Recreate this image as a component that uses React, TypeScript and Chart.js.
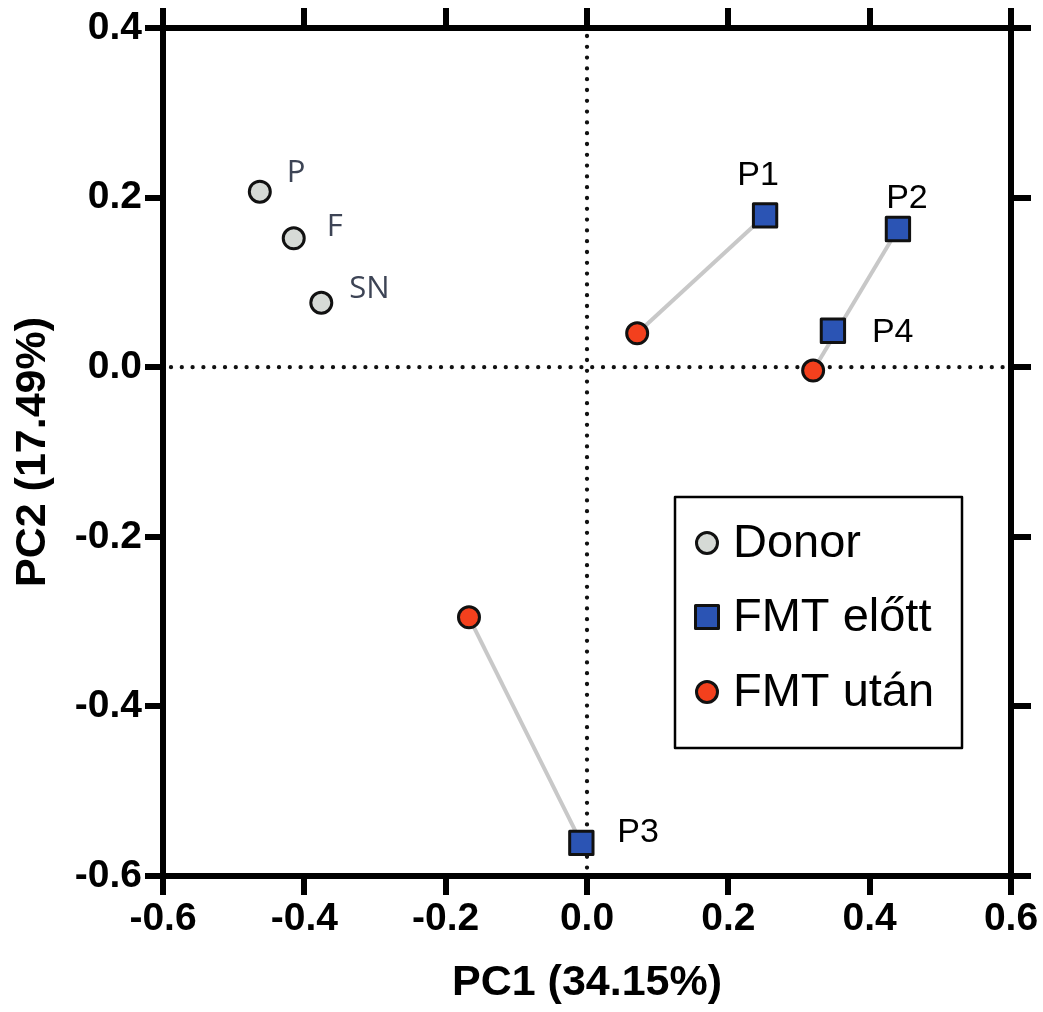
import React, { useEffect, useRef } from 'react';
import { Chart, registerables } from 'chart.js';

Chart.register(...registerables);

// ---- data ----
const donorX = [-0.463, -0.415, -0.376];
const donorY = [0.207, 0.152, 0.076];
const donorLabels = ['P', 'F', 'SN'];

const beforeX = [0.252, 0.44, -0.008, 0.348];
const beforeY = [0.179, 0.163, -0.561, 0.043];
const beforeLabels = ['P1', 'P2', 'P3', 'P4'];

const afterX = [0.071, 0.32, -0.167];
const afterY = [0.04, -0.004, -0.295];

// connections: [before index, after index]
const pairs = [
  [0, 0],
  [1, 1],
  [2, 2],
];

const xTicks = [-0.6, -0.4, -0.2, 0.0, 0.2, 0.4, 0.6];
const yTicks = [-0.6, -0.4, -0.2, 0.0, 0.2, 0.4];

const legendNames = ['Donor', 'FMT előtt', 'FMT után'];

// ---- styles ----
const FONT = '"Liberation Sans", Arial, Helvetica, sans-serif';
const DONOR_FILL = '#d6dad6';
const BEFORE_FILL = '#2b54b4';
const AFTER_FILL = '#f3401d';
const EDGE = '#111111';

// label offsets (pixels) relative to the marker: [dx, dy, align]
const beforeLabelOffsets: [number, number, CanvasTextAlign][] = [
  [-7, -30, 'center'],
  [9, -21, 'center'],
  [36, -1, 'left'],
  [39, 11, 'left'],
];
const donorLabelOffsets: [number, number][] = [
  [27, -10],
  [33, -2],
  [28, -5],
];

function fmt(v: number) {
  if (Math.abs(v) < 1e-9) return '0.0';
  return v.toFixed(1);
}

function drawMarker(ctx: CanvasRenderingContext2D, style: string, x: number, y: number, fill: string) {
  ctx.save();
  ctx.fillStyle = fill;
  ctx.strokeStyle = EDGE;
  ctx.lineWidth = 3;
  ctx.lineJoin = 'round';
  ctx.beginPath();
  if (style === 'rect') {
    ctx.rect(x - 11.5, y - 11.5, 23, 23);
  } else {
    ctx.arc(x, y, 10.5, 0, Math.PI * 2);
  }
  ctx.fill();
  ctx.stroke();
  ctx.restore();
}

const zeroLinesPlugin = {
  id: 'zeroLines',
  beforeDatasetsDraw(chart: any) {
    const { ctx, chartArea, scales } = chart;
    const x0 = scales.x.getPixelForValue(0);
    const y0 = scales.y.getPixelForValue(0);
    ctx.save();
    ctx.beginPath();
    ctx.rect(chartArea.left + 3, chartArea.top + 3, chartArea.width - 6, chartArea.height - 6);
    ctx.clip();
    ctx.strokeStyle = '#111';
    ctx.lineWidth = 4.3;
    ctx.lineCap = 'round';
    ctx.setLineDash([0, 10.8]);
    ctx.beginPath();
    ctx.moveTo(x0, chartArea.top + 8);
    ctx.lineTo(x0, chartArea.bottom);
    ctx.stroke();
    ctx.beginPath();
    ctx.moveTo(chartArea.left + 8, y0);
    ctx.lineTo(chartArea.right, y0);
    ctx.stroke();
    ctx.restore();
    ctx.lineJoin = 'round';
  },
};

const pointLabelsPlugin = {
  id: 'pointLabels',
  afterDatasetsDraw(chart: any) {
    const { ctx, scales } = chart;
    ctx.save();
    ctx.textBaseline = 'alphabetic';
    ctx.font = `34px ${FONT}`;
    ctx.fillStyle = '#000';
    beforeLabels.forEach((t, i) => {
      const px = scales.x.getPixelForValue(beforeX[i]);
      const py = scales.y.getPixelForValue(beforeY[i]);
      const [dx, dy, al] = beforeLabelOffsets[i];
      ctx.textAlign = al;
      ctx.fillText(t, px + dx, py + dy);
    });
    ctx.font = `31px "Open Sans", ${FONT}`;
    ctx.fillStyle = '#3d4455';
    ctx.textAlign = 'left';
    donorLabels.forEach((t, i) => {
      const px = scales.x.getPixelForValue(donorX[i]);
      const py = scales.y.getPixelForValue(donorY[i]);
      const [dx, dy] = donorLabelOffsets[i];
      ctx.fillText(t, px + dx, py + dy);
    });
    ctx.restore();
  },
};

const legendBoxPlugin = {
  id: 'legendBox',
  afterDraw(chart: any) {
    const ctx = chart.ctx as CanvasRenderingContext2D;
    const box = { left: 675, top: 497, width: 287, height: 251 };
    ctx.save();
    ctx.fillStyle = '#fff';
    ctx.fillRect(box.left, box.top, box.width, box.height);
    ctx.strokeStyle = '#000';
    ctx.lineWidth = 2.5;
    ctx.strokeRect(box.left, box.top, box.width, box.height);
    const styles = ['circle', 'rect', 'circle'];
    const fills = [DONOR_FILL, BEFORE_FILL, AFTER_FILL];
    const rowsY = [543, 617, 692];
    legendNames.forEach((name, i) => {
      drawMarker(ctx, styles[i], 707, rowsY[i], fills[i]);
      ctx.fillStyle = '#000';
      ctx.font = `47px ${FONT}`;
      ctx.textAlign = 'left';
      ctx.textBaseline = 'middle';
      ctx.fillText(name, 733, rowsY[i] + 1);
    });
    ctx.restore();
  },
};

export default function App() {
  const ref = useRef<HTMLCanvasElement>(null);

  useEffect(() => {
    if (!ref.current) return;

    const lineSets = pairs.map(([b, a]) => ({
      type: 'scatter' as const,
      label: 'link',
      data: [
        { x: beforeX[b], y: beforeY[b] },
        { x: afterX[a], y: afterY[a] },
      ],
      showLine: true,
      borderColor: '#c8c8c8',
      borderWidth: 4,
      pointRadius: 0,
      order: 10,
    }));

    const chart = new Chart(ref.current, {
      type: 'scatter',
      data: {
        datasets: [
          ...lineSets,
          {
            label: legendNames[0],
            data: donorX.map((x, i) => ({ x, y: donorY[i] })),
            pointStyle: 'circle',
            pointRadius: 10.5,
            pointBorderWidth: 3,
            backgroundColor: DONOR_FILL,
            borderColor: EDGE,
            order: 1,
          },
          {
            label: legendNames[1],
            data: beforeX.map((x, i) => ({ x, y: beforeY[i] })),
            pointStyle: 'rect',
            pointRadius: 16.5,
            pointBorderWidth: 3,
            backgroundColor: BEFORE_FILL,
            borderColor: EDGE,
            order: 1,
          },
          {
            label: legendNames[2],
            data: afterX.map((x, i) => ({ x, y: afterY[i] })),
            pointStyle: 'circle',
            pointRadius: 10.5,
            pointBorderWidth: 3,
            backgroundColor: AFTER_FILL,
            borderColor: EDGE,
            order: 1,
          },
        ],
      },
      options: {
        animation: false,
        responsive: false,
        devicePixelRatio: 1,
        events: [],
        layout: { padding: 0 },
        plugins: {
          legend: { display: false },
          tooltip: { enabled: false },
        },
        scales: {
          x: {
            type: 'linear',
            position: 'bottom',
            min: -0.6,
            max: 0.6,
            afterBuildTicks: (s: any) => {
              s.ticks = xTicks.map((v) => ({ value: v }));
            },
            afterFit: (s: any) => {
              s.height = 136;
            },
            grid: { drawOnChartArea: false, drawTicks: true, tickLength: 19, lineWidth: 6, color: '#000' },
            border: { display: true, width: 6, color: '#000' },
            ticks: {
              padding: 1,
              color: '#000',
              font: { family: FONT, size: 39, weight: 'bold' },
              callback: (v: any) => fmt(Number(v)),
              maxRotation: 0,
            },
            title: {
              display: true,
              text: 'PC1 (34.15%)',
              color: '#000',
              font: { family: FONT, size: 43, weight: 'bold' },
              padding: { top: 0, bottom: 3 },
            },
          },
          x2: {
            type: 'linear',
            position: 'top',
            min: -0.6,
            max: 0.6,
            afterBuildTicks: (s: any) => {
              s.ticks = xTicks.map((v) => ({ value: v }));
            },
            afterFit: (s: any) => {
              s.height = 28;
            },
            grid: { drawOnChartArea: false, drawTicks: true, tickLength: 20, lineWidth: 6, color: '#000' },
            border: { display: true, width: 6, color: '#000' },
            ticks: { display: false },
          },
          y: {
            type: 'linear',
            position: 'left',
            min: -0.6,
            max: 0.4,
            afterBuildTicks: (s: any) => {
              s.ticks = yTicks.map((v) => ({ value: v }));
            },
            afterFit: (s: any) => {
              s.width = 163;
            },
            grid: { drawOnChartArea: false, drawTicks: true, tickLength: 18, lineWidth: 6, color: '#000' },
            border: { display: true, width: 6, color: '#000' },
            ticks: {
              padding: 3,
              color: '#000',
              font: { family: FONT, size: 39, weight: 'bold' },
              callback: (v: any) => fmt(Number(v)),
            },
            title: {
              display: true,
              text: 'PC2 (17.49%)',
              color: '#000',
              font: { family: FONT, size: 43, weight: 'bold' },
              padding: { top: 7, bottom: 0 },
            },
          },
          y2: {
            type: 'linear',
            position: 'right',
            min: -0.6,
            max: 0.4,
            afterBuildTicks: (s: any) => {
              s.ticks = yTicks.map((v) => ({ value: v }));
            },
            afterFit: (s: any) => {
              s.width = 32;
            },
            grid: { drawOnChartArea: false, drawTicks: true, tickLength: 20, lineWidth: 6, color: '#000' },
            border: { display: true, width: 6, color: '#000' },
            ticks: { display: false },
          },
        },
      } as any,
      plugins: [zeroLinesPlugin, pointLabelsPlugin, legendBoxPlugin],
    });

    return () => chart.destroy();
  }, []);

  return (
    <div style={{ position: 'absolute', left: 0, top: 0, width: 1043, height: 1012, background: '#fff' }}>
      <canvas ref={ref} width={1043} height={1012} style={{ display: 'block' }} />
    </div>
  );
}
